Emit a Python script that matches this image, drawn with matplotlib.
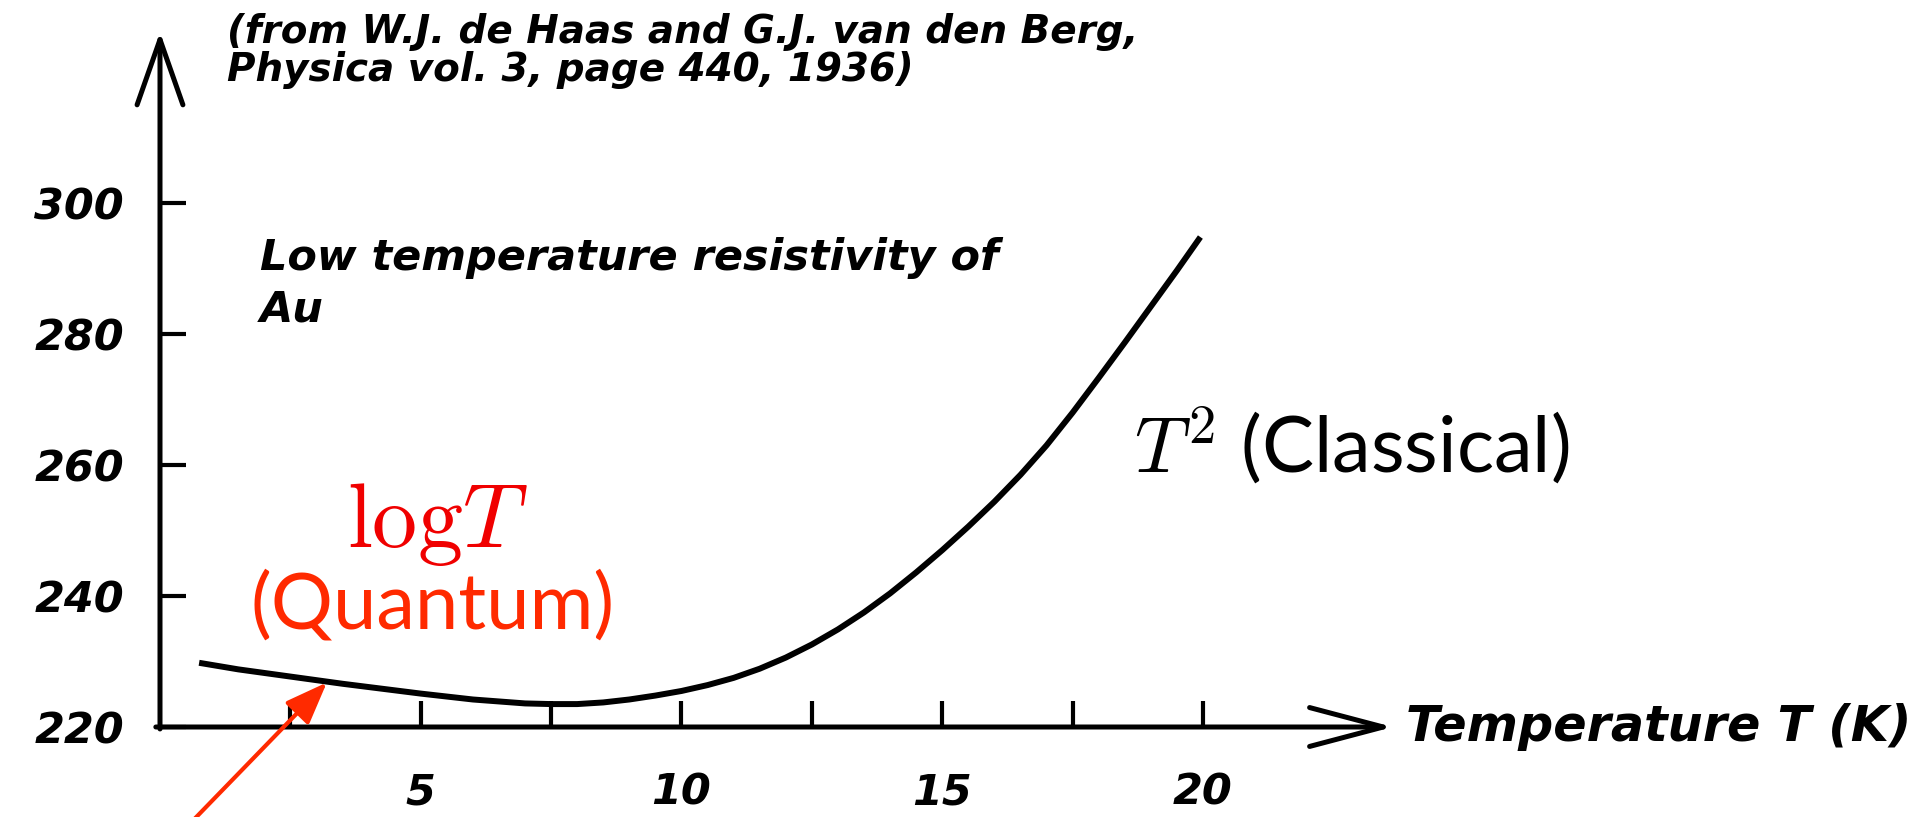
import matplotlib
matplotlib.use("Agg")
import matplotlib.pyplot as plt

# ---- data ----
temperature_K = [0.75, 1.5, 2.5, 3.5, 5.0, 6.0, 7.0, 7.5, 8.0, 8.5, 9.0, 9.5,
                 10.0, 10.5, 11.0, 11.5, 12.0, 12.5, 13.0, 13.5, 14.0, 14.5,
                 15.0, 15.5, 16.0, 16.5, 17.0, 17.5, 18.0, 18.5, 19.0, 19.5,
                 19.95]
resistivity = [229.8, 228.8, 227.7, 226.6, 225.1, 224.2, 223.6, 223.5, 223.5,
               223.75, 224.2, 224.8, 225.5, 226.4, 227.5, 228.9, 230.6, 232.6,
               234.9, 237.5, 240.4, 243.6, 247.0, 250.6, 254.4, 258.5, 263.0,
               268.0, 273.3, 278.7, 284.2, 289.7, 294.8]
x_major_ticks = [5, 10, 15, 20]
x_major_labels = ["5", "10", "15", "20"]
x_minor_ticks = [2.5, 7.5, 12.5, 17.5]
y_ticks = [220, 240, 260, 280, 300]
y_labels = ["220", "240", "260", "280", "300"]
arrow_tip = (3.2, 226.8)
arrow_tail = (0.3, 203.0)

plt.rcParams["mathtext.fontset"] = "cm"

W, H = 1925, 817
fig = plt.figure(figsize=(W / 100, H / 100), dpi=100)


def fx(px):
    return px / W


def fy(py):
    return 1 - py / H


x0_px, y0_px = 160, 727
x_end_px, y_end_px = 1393, 32
px_per_T = (1203 - 160) / 20
px_per_R = (727 - 203) / 80
xmax = (x_end_px - x0_px) / px_per_T
ymax = 220 + (y0_px - y_end_px) / px_per_R

ax = fig.add_axes([fx(x0_px), fy(y0_px), (x_end_px - x0_px) / W,
                   (y0_px - y_end_px) / H])
ax.set_xlim(0, xmax)
ax.set_ylim(220, ymax)
for s in ax.spines.values():
    s.set_visible(False)
ax.patch.set_visible(False)

# axes with arrows
ax.annotate("", xy=(xmax, 220), xytext=(-0.08, 220),
            arrowprops=dict(arrowstyle="->,head_length=5.3,head_width=1.4",
                            lw=3.6, color="black", mutation_scale=10,
                            shrinkA=0, shrinkB=0),
            annotation_clip=False)
ax.annotate("", xy=(0, ymax), xytext=(0, 219.7),
            arrowprops=dict(arrowstyle="->,head_length=4.7,head_width=1.65",
                            lw=3.6, color="black", mutation_scale=10,
                            shrinkA=0, shrinkB=0),
            annotation_clip=False)

# data curve
ax.plot(temperature_K, resistivity, color="black", lw=4.3,
        solid_capstyle="butt", solid_joinstyle="round")

# ticks
tick_font = dict(family="DejaVu Sans", weight="bold", style="oblique", size=31)
ax.set_xticks(x_major_ticks)
ax.set_xticklabels(x_major_labels, fontdict=tick_font)
ax.set_xticks(x_minor_ticks, minor=True)
ax.set_yticks(y_ticks)
ax.set_yticklabels(y_labels, fontdict=tick_font)
ax.tick_params(axis="both", which="both", direction="in", length=19,
               width=3, color="black")
ax.tick_params(axis="x", which="major", pad=32)
ax.tick_params(axis="y", which="major", pad=26)

# red arrow
ax.annotate("", xy=arrow_tip, xytext=arrow_tail,
            arrowprops=dict(arrowstyle="-|>,head_length=2.6,head_width=1.0",
                            lw=3, color="#ff2a00", mutation_scale=10,
                            shrinkA=0, shrinkB=0),
            annotation_clip=False)

# texts
bold_it = dict(family="DejaVu Sans", weight="bold", style="oblique")
fig.text(fx(227), fy(32), "(from W.J. de Haas and G.J. van den Berg,",
         ha="left", va="center", size=28, **bold_it)
fig.text(fx(227), fy(70), "Physica vol. 3, page 440, 1936)",
         ha="left", va="center", size=28, **bold_it)
fig.text(fx(260), fy(270), "Low temperature resistivity of",
         ha="left", va="baseline", size=31, **bold_it)
fig.text(fx(260), fy(322), "Au",
         ha="left", va="baseline", size=31, **bold_it)
fig.text(fx(1406), fy(727), "Temperature T (K)",
         ha="left", va="center", size=35.5, **bold_it)

fig.text(fx(437), fy(547), r"$\mathrm{log}T$", color="#f00000",
         ha="center", va="baseline", size=65)
fig.text(fx(433), fy(628), "(Quantum)", color="#ff2a00", family="Lato",
         ha="center", va="baseline", size=56)
fig.text(fx(1134), fy(473), r"$T^2$ (Classical)", color="black",
         family="Lato", ha="left", va="baseline", size=56)

fig.savefig("out.png", dpi=100)
